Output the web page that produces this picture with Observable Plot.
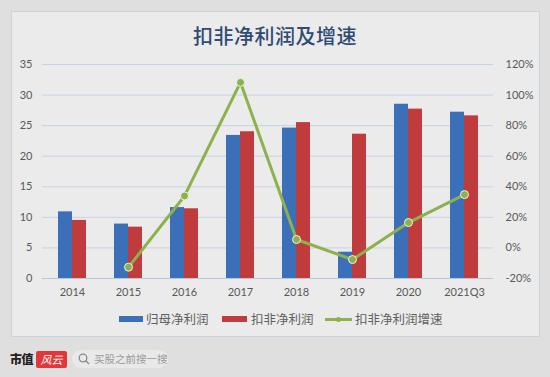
<!DOCTYPE html>
<html>
<head>
<meta charset="utf-8">
<script src="https://cdn.jsdelivr.net/npm/d3@7"></script>
<script src="https://cdn.jsdelivr.net/npm/@observablehq/plot@0.6"></script>
<style>
  html, body { margin: 0; padding: 0; }
  body { width: 550px; height: 377px; background: #dfdfdf; position: relative; overflow: hidden;
         font-family: "Noto Sans CJK SC", "Noto Sans", sans-serif; }
  #panel { position: absolute; left: 11px; top: 11px; width: 529px; height: 326px;
           background: #ebebeb; border: 1px solid #c9d3de; box-sizing: border-box; }
  #title { position: absolute; left: 0; width: 550px; top: 22px; text-align: center;
           font-size: 20px; font-weight: 500; color: #2f4b74; letter-spacing: 0.5px; line-height: 28px; }
  #chart { position: absolute; left: 0; top: 50px; }
  .leg { position: absolute; top: 311px; font-size: 12.5px; color: #606060; line-height: 16px; }
  .sw { position: absolute; }
  #footer-logo { position: absolute; left: 10px; top: 350px; font-family: "Noto Sans CJK SC", sans-serif;
                 font-weight: 900; font-size: 12px; color: #222; line-height: 18px; letter-spacing: -0.5px; }
  #logo-red { position: absolute; left: 36px; top: 351px; width: 31px; height: 17px; background: #e2373a;
              color: #fff; font-size: 11px; font-style: italic; line-height: 17px; text-align: center; border-radius: 2px; }
  #search { position: absolute; left: 72px; top: 350px; width: 96px; height: 18px; background: #e9e9e9;
            border-radius: 9px; font-size: 10.5px; color: #9a9a9a; line-height: 18px; }
</style>
</head>
<body>
<div id="panel"></div>
<div id="title">扣非净利润及增速</div>
<div id="chart"></div>

<div class="sw" style="left:119px;top:316px;width:24px;height:6px;background:#3b6fb8;"></div>
<div class="leg" style="left:146px;">归母净利润</div>
<div class="sw" style="left:222px;top:316px;width:25px;height:6px;background:#c03b3c;"></div>
<div class="leg" style="left:251px;">扣非净利润</div>
<div class="sw" style="left:325px;top:318px;width:27px;height:3px;background:#8db14c;"></div>
<div class="sw" style="left:336px;top:317px;width:5px;height:5px;border-radius:50%;background:#8db14c;"></div>
<div class="leg" style="left:355px;">扣非净利润增速</div>

<div id="footer-logo">市值</div>
<div id="logo-red">风云</div>
<div id="search">
  <svg width="12" height="12" style="position:absolute;left:6px;top:3px" viewBox="0 0 12 12">
    <circle cx="5" cy="5" r="3.8" fill="none" stroke="#8a8a8a" stroke-width="1.3"/>
    <line x1="7.8" y1="7.8" x2="11" y2="11" stroke="#8a8a8a" stroke-width="1.4"/>
  </svg>
  <span style="position:absolute;left:22px;">买股之前搜一搜</span>
</div>

<script>
const categories = ["2014", "2015", "2016", "2017", "2018", "2019", "2020", "2021Q3"];
const parentProfit = [10.9, 8.9, 11.6, 23.4, 24.6, 4.3, 28.5, 27.2];      // 归母净利润 (亿)
const deductedProfit = [9.5, 8.4, 11.4, 24.0, 25.5, 23.6, 27.7, 26.6];    // 扣非净利润 (亿)
const growth = [null, -12.6, 34.0, 108.3, 5.5, -7.6, 16.6, 34.9];         // 扣非净利润增速 (%)
const leftTicks = [0, 5, 10, 15, 20, 25, 30, 35];
const rightTicks = [-20, 0, 20, 40, 60, 80, 100, 120];

// map percentage onto left scale: -20..120 -> 0..35
const toLeft = g => (g + 20) / 4;

const barsA = categories.map((c, i) => ({cat: c, v: parentProfit[i]}));
const barsB = categories.map((c, i) => ({cat: c, v: deductedProfit[i]}));
const lineData = categories.map((c, i) => ({cat: c, g: growth[i]})).filter(d => d.g != null);

const font = "Lato, 'Open Sans', sans-serif";

const plot = Plot.plot({
  width: 550,
  height: 250,
  marginLeft: 42,
  marginRight: 57,
  marginTop: 14,
  marginBottom: 22,
  style: {background: "transparent", fontFamily: font, fontSize: "11px", color: "#595959"},
  x: {domain: categories, type: "band", paddingInner: 0.752, paddingOuter: 0.376, label: null},
  y: {domain: [0, 35], label: null},
  marks: [
    Plot.ruleY(leftTicks.filter(t => t > 0), {stroke: "#c6d3e4", strokeWidth: 1}),
    Plot.ruleY([0], {stroke: "#b9c6d6", strokeWidth: 1}),
    Plot.barY(barsA, {x: "cat", y: "v", fill: "#3b6fb8", dx: -7}),
    Plot.barY(barsB, {x: "cat", y: "v", fill: "#c03b3c", dx: 7}),
    Plot.line(lineData, {x: "cat", y: d => toLeft(d.g), stroke: "#8db14c", strokeWidth: 3}),
    Plot.dot(lineData, {x: "cat", y: d => toLeft(d.g), r: 4, fill: "#8db14c", stroke: "#eef3e4", strokeWidth: 1}),
    Plot.axisX({tickSize: 0, tickPadding: 10, label: null, fontSize: 11}),
    Plot.axisY({anchor: "left", ticks: leftTicks, tickSize: 0, tickPadding: 10, label: null}),
    Plot.axisY({anchor: "right", ticks: rightTicks.map(toLeft), tickSize: 0, tickPadding: 12, label: null,
                tickFormat: d => `${Math.round(d * 4 - 20)}%`})
  ]
});
document.getElementById("chart").appendChild(plot);
</script>
</body>
</html>
